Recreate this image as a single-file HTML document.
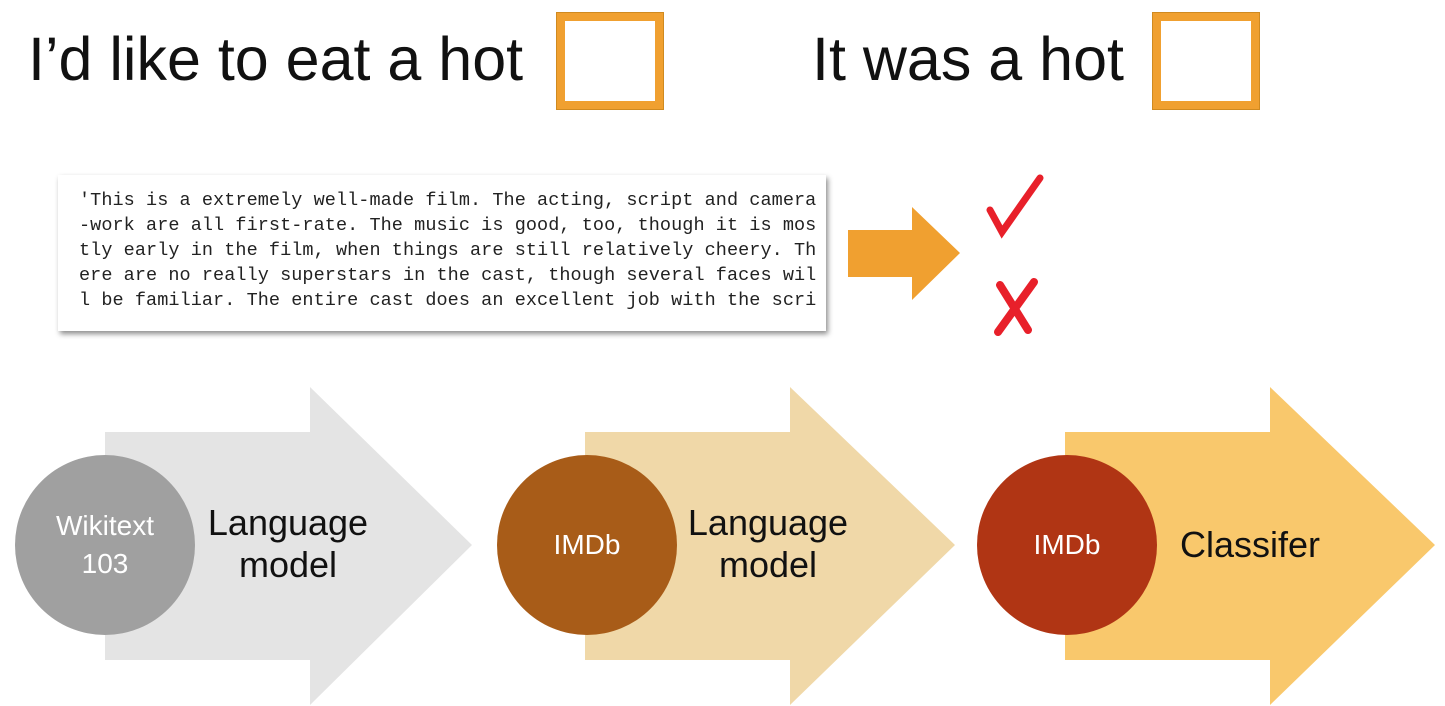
<!DOCTYPE html>
<html><head><meta charset="utf-8"><style>
body{margin:0;width:1445px;height:706px;background:#fff;position:relative;overflow:hidden;font-family:"Liberation Sans",sans-serif}
.t{position:absolute;font-size:61px;color:#111;top:24px;white-space:nowrap}
.box{position:absolute;top:13px;width:90px;height:80px;border:8px solid #f0a030;box-shadow:0 0 0 1px #d08a20}
.tb{position:absolute;left:58px;top:175px;width:768px;height:156px;background:#fff;box-shadow:2px 3px 5px rgba(0,0,0,.45);overflow:hidden}
.tb pre{margin:0;position:absolute;left:21px;top:13px;font-family:"Liberation Mono",monospace;font-size:18.5px;line-height:25px;color:#222;letter-spacing:0.07px}
.lbl{position:absolute;font-size:36px;color:#111;text-align:center;line-height:42px}
.c{position:absolute;width:180px;height:180px;border-radius:50%;color:#fff;font-size:28px;display:flex;align-items:center;justify-content:center;text-align:center;line-height:38px}
</style></head><body>
<div class="t" style="left:28px">I’d like to eat a hot</div>
<div class="box" style="left:557px"></div>
<div class="t" style="left:812px">It was a hot</div>
<div class="box" style="left:1153px"></div>
<div class="tb"><pre>'This is a extremely well-made film. The acting, script and camera
-work are all first-rate. The music is good, too, though it is mos
tly early in the film, when things are still relatively cheery. Th
ere are no really superstars in the cast, though several faces wil
l be familiar. The entire cast does an excellent job with the scri</pre></div>
<svg width="1445" height="706" style="position:absolute;left:0;top:0">
<polygon points="848,230 912,230 912,207 960,253 912,300 912,277 848,277" fill="#f0a030"/>
<path d="M990,210 L1002,232 L1040,178" stroke="#e8202a" stroke-width="7" fill="none" stroke-linecap="round"/>
<path d="M1000,285 L1028,330 M1034,282 L998,332" stroke="#e8202a" stroke-width="8" fill="none" stroke-linecap="round"/>
<polygon points="105,432 310,432 310,387 472,545 310,705 310,660 105,660" fill="#e4e4e4"/>
<polygon points="585,432 790,432 790,387 955,545 790,705 790,660 585,660" fill="#f0d8a8"/>
<polygon points="1065,432 1270,432 1270,387 1435,545 1270,705 1270,660 1065,660" fill="#f9c86c"/>
</svg>
<div class="c" style="left:15px;top:455px;background:#a0a0a0">Wikitext<br>103</div>
<div class="c" style="left:497px;top:455px;background:#a85c18">IMDb</div>
<div class="c" style="left:977px;top:455px;background:#b03514">IMDb</div>
<div class="lbl" style="left:198px;top:502px;width:180px">Language<br>model</div>
<div class="lbl" style="left:678px;top:502px;width:180px">Language<br>model</div>
<div class="lbl" style="left:1160px;top:524px;width:180px">Classifer</div>
</body></html>
